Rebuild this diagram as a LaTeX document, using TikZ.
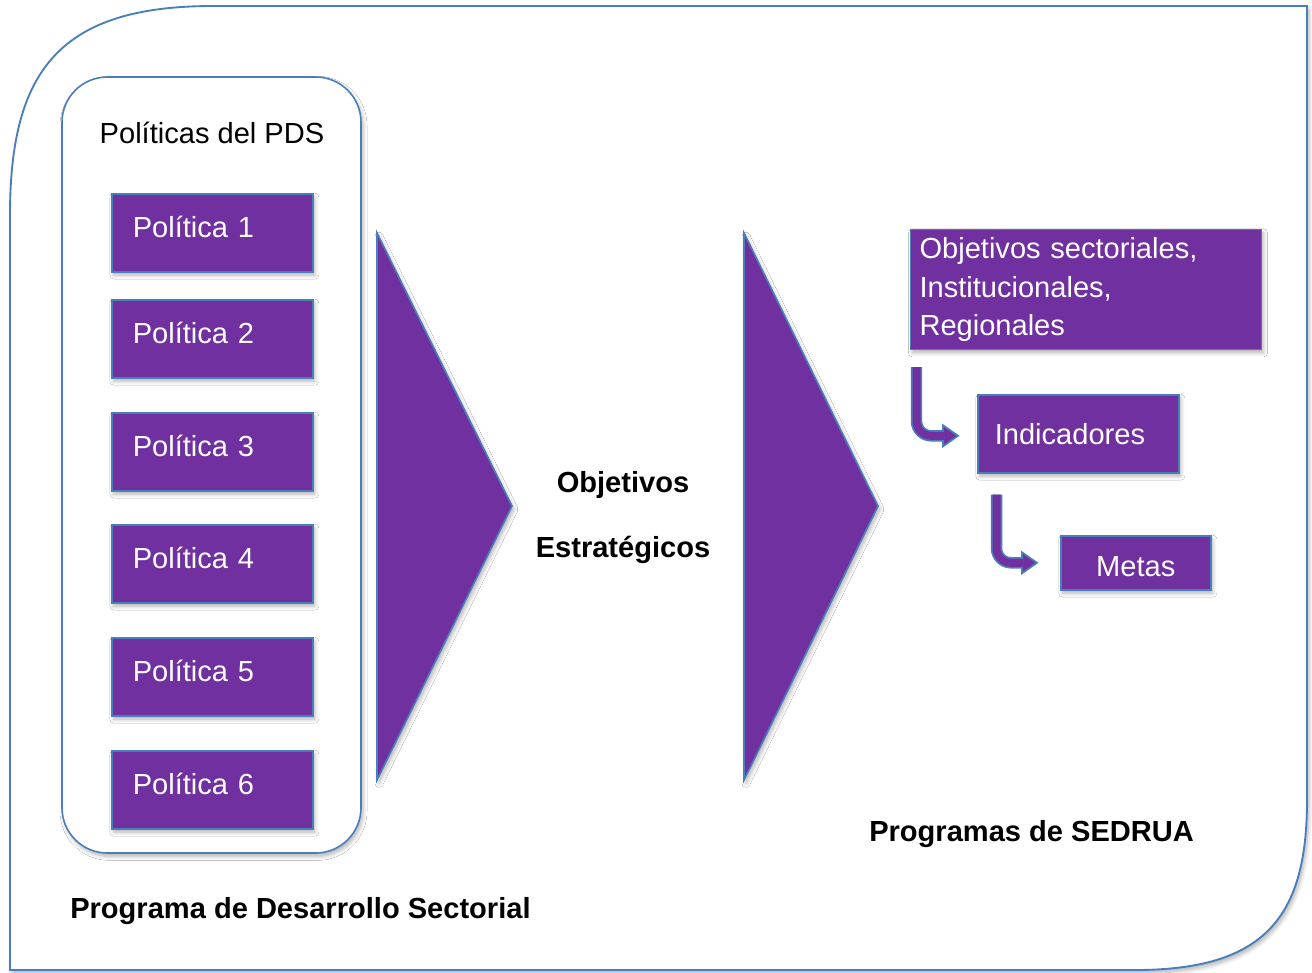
\documentclass[tikz,border=0pt]{standalone}
\usepackage{fontspec}
\setmainfont{Liberation Sans}
\usetikzlibrary{calc,shadows.blur}
\definecolor{pur}{HTML}{7030A0}
\definecolor{bord}{HTML}{4A7EBB}
\begin{document}
\begin{tikzpicture}[x=0.75pt,y=-0.75pt,
  every node/.style={font=\fontsize{21.8}{26}\selectfont},
  softshadow/.style={blur shadow={shadow xshift=1.5pt, shadow yshift=-2.5pt, shadow opacity=30, shadow blur steps=6, shadow blur radius=3pt}},
  frame/.style={draw=bord, line width=1.4pt, fill=white, softshadow},
  pbox/.style={draw=bord, line width=1.2pt, fill=pur, text=white, anchor=north west,
    minimum height=58.5pt, inner xsep=15.75pt, text width=119.25pt, align=left,
    text height=16pt, text depth=9.4pt, softshadow},
  obox/.style={draw=bord, line width=0.8pt, fill=pur, text=white, anchor=north west,
    minimum height=90pt, inner xsep=6.75pt, text width=249.75pt, align=left,
    font=\fontsize{21.8}{28.9}\selectfont, softshadow},
  ibox/.style={draw=bord, line width=1.2pt, fill=pur, text=white, anchor=north west,
    minimum height=58.5pt, inner xsep=12.75pt, text width=125.25pt, align=left, softshadow},
  mbox/.style={draw=bord, line width=1.2pt, fill=pur, text=white, anchor=north west,
    minimum height=40.5pt, minimum width=112.5pt, align=center,
    text height=20pt, text depth=0pt, softshadow},
  tri/.style={fill=pur, draw=bord, line width=1.2pt, softshadow},
  boldlabel/.style={font=\fontsize{21.8}{26}\selectfont\bfseries, inner sep=0pt},
  headst/.style={fill=pur, draw=bord, line width=1.3pt, line join=miter},
  shaft/.style={draw=bord, line width=1.3pt, double=pur, double distance=6pt, rounded corners=11pt}
]
\useasboundingbox (0,0) rectangle (1312,972);
% outer frame
\path[frame] (10,970) -- (10,215) .. controls (10,70) and (60,6) .. (213,6)
  -- (1307,6) -- (1307,800) .. controls (1307,917) and (1265,970) .. (1135,970) -- cycle;
% inner container
\path[frame, line width=1.2pt, rounded corners=34pt] (62,77) rectangle (361,853);
\node[inner sep=0pt] (title) at (212,133) {Políticas del PDS};
\node[pbox] (p1) at (111,193) {Política 1};
\node[pbox] (p2) at (111,299) {Política 2};
\node[pbox] (p3) at (111,412) {Política 3};
\node[pbox] (p4) at (111,524) {Política 4};
\node[pbox] (p5) at (111,637) {Política 5};
\node[pbox] (p6) at (111,750) {Política 6};
% big triangles
\path[tri] (377,233) -- (377,780) -- (512,506) -- cycle;
\path[tri] (744,233) -- (744,780) -- (878,506) -- cycle;
\node[boldlabel] (oe1) at (623,485) {Objetivos};
\node[boldlabel] (oe2) at (623,550) {Estratégicos};
% right side boxes
\node[obox] (obj) at (910,229) {Objetivos sectoriales,\\Institucionales,\\Regionales};
\node[ibox] (ind) at (977,394) {Indicadores};
\node[mbox] (met) at (1060,535) {Metas};
% bent arrows
\coordinate (a1s) at ($(obj.south west)+(6.5,17)$);
\coordinate (a1t) at ($(ind.west)+(-19,2)$);
\path[headst] (a1t) -- ++(-15,-10.5) -- ++(0,21) -- cycle;
\draw[shaft] (a1s) |- ($(a1t)+(-14,0)$);
\coordinate (a2s) at ($(ind.south west)+(19.5,21)$);
\coordinate (a2t) at ($(met.west)+(-23,0)$);
\path[headst] (a2t) -- ++(-15,-10.5) -- ++(0,21) -- cycle;
\draw[shaft] (a2s) |- ($(a2t)+(-14,0)$);
% bottom labels
\node[boldlabel, anchor=west] (l1) at (70,911) {Programa de Desarrollo Sectorial};
\node[boldlabel, anchor=west] (l2) at (869,834) {Programas de SEDRUA};
\end{tikzpicture}
\end{document}
